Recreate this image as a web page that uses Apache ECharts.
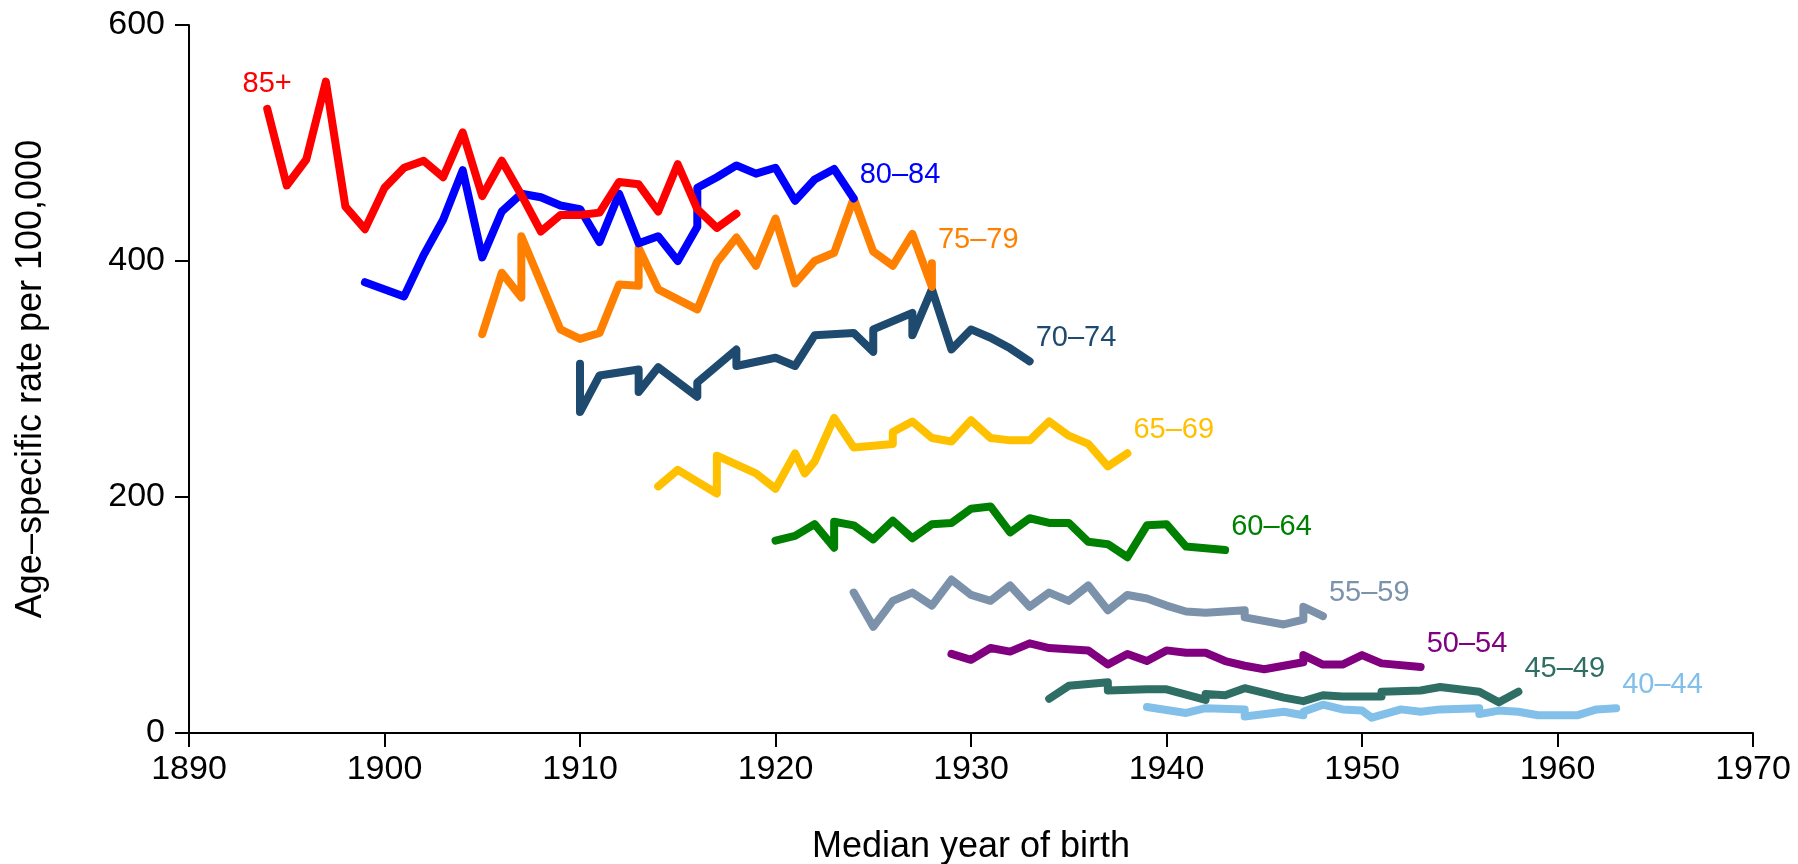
<!DOCTYPE html>
<html>
<head>
<meta charset="utf-8">
<title>Age-specific rate by median year of birth</title>
<script src="https://cdn.jsdelivr.net/npm/echarts@6/dist/echarts.min.js"></script>
<style>
  html, body { margin: 0; padding: 0; background: #fff; }
  #line { width: 1798px; height: 864px; }
</style>
</head>
<body>
<div id="line"></div>
<script>
// [median year of birth, rate per 100,000] for each age group
var age40 = [[1939,22],[1941,17],[1942,21],[1944,20],[1944,14],[1946,18],[1947,15],[1947,18],[1948,24],[1949,20],[1950,19],[1950.5,13],[1952,20],[1953,18],[1954,20],[1956,21],[1956,16],[1957,19],[1958,18],[1959,15],[1961,15],[1962,20],[1963,21]];
var age45 = [[1934,29],[1935,40],[1937,43],[1937,36],[1939,37],[1940,37],[1942,28],[1942,33],[1943,32],[1944,38],[1945,34],[1946,30],[1947,27],[1948,32],[1949,31],[1951,31],[1951,35],[1953,36],[1954,39],[1956,35],[1957,26],[1958,35]];
var age50 = [[1929,67],[1930,62],[1931,72],[1932,69],[1933,76],[1934,72],[1936,70],[1937,58],[1938,67],[1939,61],[1940,70],[1941,68],[1942,68],[1943,61],[1944,57],[1945,54],[1946,57],[1947,60],[1947,66],[1948,58],[1949,58],[1950,66],[1951,59],[1953,56]];
var age55 = [[1924,119],[1925,90],[1926,112],[1927,119],[1928,108],[1929,130],[1930,117],[1931,112],[1932,125],[1933,107],[1934,119],[1935,112],[1936,125],[1937,104],[1938,117],[1939,114],[1940,108],[1941,103],[1942,102],[1944,104],[1944,98],[1946,92],[1947,96],[1947,107],[1948,99]];
var age60 = [[1920,163],[1921,167],[1922,177],[1923,157],[1923,179],[1924,176],[1925,164],[1926,180],[1927,165],[1928,177],[1929,178],[1930,190],[1931,192],[1932,170],[1933,182],[1934,178],[1935,178],[1936,162],[1937,160],[1938,149],[1939,176],[1940,177],[1941,158],[1943,155]];
var age65 = [[1914,209],[1915,223],[1917,203],[1917,235],[1919,220],[1920,207],[1921,237],[1921.5,220],[1922,230],[1923,267],[1924,242],[1926,245],[1926,255],[1927,264],[1928,250],[1929,247],[1930,265],[1931,250],[1932,248],[1933,248],[1934,264],[1935,252],[1936,245],[1937,226],[1938,237]];
var age70 = [[1910,313],[1910,272],[1911,303],[1913,308],[1913,289],[1914,310],[1916,285],[1916,297],[1918,325],[1918,311],[1920,318],[1921,311],[1922,337],[1924,339],[1925,323],[1925,342],[1927,356],[1927,337],[1928,376],[1929,325],[1930,342],[1931,335],[1932,326],[1933,315]];
var age75 = [[1905,338],[1906,390],[1907,369],[1907,421],[1909,342],[1910,334],[1911,339],[1912,380],[1913,379],[1913,411],[1914,376],[1916,359],[1917,399],[1918,420],[1919,396],[1920,436],[1921,381],[1922,400],[1923,407],[1924,453],[1925,408],[1926,396],[1927,423],[1928,378],[1928,398]];
var age80 = [[1899,382],[1901,370],[1902,405],[1903,435],[1904,477],[1905,403],[1906,442],[1907,457],[1908,454],[1909,447],[1910,444],[1911,416],[1912,457],[1913,415],[1914,421],[1915,400],[1916,429],[1916,462],[1917,471],[1918,481],[1919,474],[1920,479],[1921,451],[1922,469],[1923,478],[1924,453]];
var age85 = [[1894,529],[1895,464],[1896,486],[1897,552],[1898,446],[1899,427],[1900,462],[1901,479],[1902,485],[1903,471],[1904,509],[1905,455],[1906,485],[1907,456],[1908,425],[1909,439],[1910,439],[1911,441],[1912,467],[1913,465],[1914,442],[1915,482],[1916,444],[1917,428],[1918,440]];

var groupNames = ['40–44', '45–49', '50–54', '55–59', '60–64', '65–69', '70–74', '75–79', '80–84', '85+'];
var groupData = [age40, age45, age50, age55, age60, age65, age70, age75, age80, age85];
var groupColors = ['#82c0ea', '#2e6e64', '#800080', '#7b92aa', '#008000', '#ffc000', '#1f4a70', '#ff8000', '#0000ff', '#ff0000'];

var fontName = '"Liberation Sans", Arial, Helvetica, sans-serif';

var series = [];
for (var i = 0; i < groupData.length; i++) {
  var s = {
    type: 'line',
    name: groupNames[i],
    data: groupData[i],
    showSymbol: false,
    symbol: 'none',
    silent: true,
    lineStyle: { color: groupColors[i], width: 8, cap: 'round', join: 'round' },
    endLabel: {
      show: true,
      formatter: groupNames[i],
      color: groupColors[i],
      fontSize: 29,
      fontFamily: fontName,
      distance: 6,
      offset: [0, -23]
    }
  };
  // 85+ is labelled at the start of the line instead
  if (groupNames[i] === '85+') {
    s.endLabel = { show: false };
    s.markPoint = {
      symbol: 'circle',
      symbolSize: 2,
      silent: true,
      itemStyle: { color: 'rgba(0,0,0,0)' },
      data: [{
        coord: groupData[i][0],
        value: 0
      }],
      label: {
        show: true, position: 'inside', offset: [0, -25],
        formatter: '85+', color: groupColors[i], fontSize: 29, fontFamily: fontName
      }
    };
  }
  series.push(s);
}

var myChart = echarts.init(document.getElementById('line'));
myChart.setOption({
  animation: false,
  backgroundColor: '#fff',
  textStyle: { fontFamily: fontName },
  grid: { left: 189, right: 45, top: 25, bottom: 131, outerBoundsMode: 'none', containLabel: false },
  xAxis: {
    type: 'value',
    min: 1890,
    max: 1970,
    interval: 10,
    name: 'Median year of birth',
    nameLocation: 'middle',
    nameGap: 96,
    nameTextStyle: { color: '#000', fontSize: 36, fontFamily: fontName },
    axisLine: { show: true, lineStyle: { color: '#000', width: 2 } },
    axisTick: { show: true, length: 14, lineStyle: { color: '#000', width: 2 } },
    axisLabel: {
      color: '#000', fontSize: 34, margin: 20, fontFamily: fontName,
      formatter: function (v) { return String(v); }
    },
    splitLine: { show: false }
  },
  yAxis: {
    type: 'value',
    min: 0,
    max: 600,
    interval: 200,
    name: 'Age–specific rate per 100,000',
    nameLocation: 'middle',
    nameGap: 140,
    nameTextStyle: { color: '#000', fontSize: 36, fontFamily: fontName },
    axisLine: { show: true, lineStyle: { color: '#000', width: 2 } },
    axisTick: { show: true, length: 14, lineStyle: { color: '#000', width: 2 } },
    axisLabel: { color: '#000', fontSize: 34, margin: 24, fontFamily: fontName },
    splitLine: { show: false }
  },
  series: series
});
</script>
</body>
</html>
